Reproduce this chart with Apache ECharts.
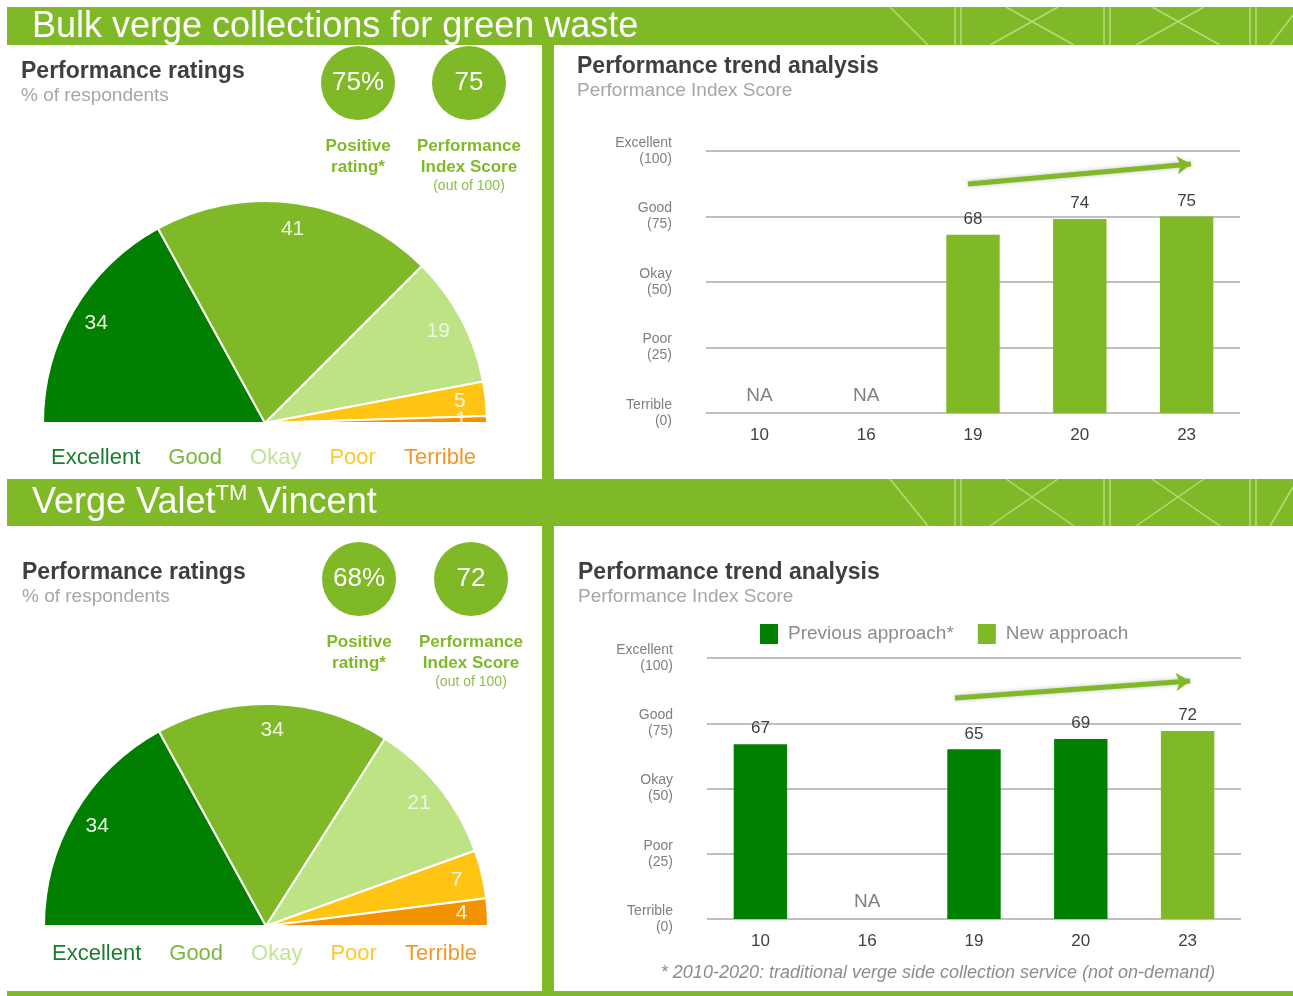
<!DOCTYPE html>
<html>
<head>
<meta charset="utf-8">
<script src="https://cdn.jsdelivr.net/npm/echarts@6/dist/echarts.min.js"></script>
<style>
  html, body { margin: 0; padding: 0; background: #fff; }
  #main { width: 1293px; height: 996px; }
</style>
</head>
<body>
<div id="main"></div>
<script>
// rating categories shared by both pies
const ratingNames = ["Excellent", "Good", "Okay", "Poor", "Terrible"];
const ratingColors = ["#007f00", "#80b927", "#bde385", "#ffc512", "#f39200"];
const legendColors = ["#1d7d2f", "#7db640", "#c3e39b", "#ffc72e", "#f0982a"];
const bulkRatings = [34, 41, 19, 5, 1];
const valetRatings = [34, 34, 21, 7, 4];

// headline numbers in the circles
const bulkKpis = ["75%", "75"];
const valetKpis = ["68%", "72"];

// trend charts
const years = ["10", "16", "19", "20", "23"];
const yTickValues = [0, 25, 50, 75, 100];
const yTickNames = ["Terrible", "Poor", "Okay", "Good", "Excellent"];
const bulkScores = [null, null, 68, 74, 75];
const valetPrevious = [67, null, 65, 69, null];
const valetNew = [null, null, null, null, 72];

const GREEN = "#80b927";
const FONT = "Liberation Sans";

function naData(...lists) {
	return years.map((_, i) => (lists.every((l) => l[i] == null) ? 0 : null));
}

function pieSeries(name, values, cx, cy) {
	const data = values.map((v, i) => ({ name: ratingNames[i], value: v, itemStyle: { color: ratingColors[i] } }));
	return [
		{
			name: name,
			type: "pie",
			center: [cx, cy],
			radius: [0, 222],
			startAngle: 180,
			endAngle: 0,
			label: { show: false },
			labelLine: { show: false },
			itemStyle: { borderColor: "#fff", borderWidth: 2 },
			emphasis: { disabled: true },
			data: data,
		},
		{
			// transparent ring only used to put the labels near the rim
			name: name + " labels",
			type: "pie",
			silent: true,
			center: [cx, cy],
			radius: [164, 222],
			startAngle: 180,
			endAngle: 0,
			avoidLabelOverlap: false,
			minShowLabelAngle: 0,
			label: { show: true, position: "inside", color: "#eef7e4", fontSize: 21, formatter: "{c}" },
			labelLine: { show: false },
			labelLayout: { hideOverlap: false },
			itemStyle: { color: "transparent", borderWidth: 0 },
			emphasis: { disabled: true },
			data: values.map((v, i) => ({ name: ratingNames[i], value: v })),
		},
	];
}

function ratingLegend(left, top) {
	return {
		left: left,
		top: top,
		padding: 0,
		icon: "none",
		itemWidth: 0,
		itemGap: 23,
		selectedMode: false,
		textStyle: { fontSize: 22 },
		data: ratingNames.map((n, i) => ({ name: n, textStyle: { color: legendColors[i] } })),
	};
}

function barLabel() {
	return { show: true, position: "top", distance: 7, color: "#404040", fontSize: 17 };
}

function naSeries(gridIdx, lists) {
	return {
		name: "NA",
		type: "bar",
		xAxisIndex: gridIdx,
		yAxisIndex: gridIdx,
		barWidth: "50%",
		barGap: "-100%",
		silent: true,
		itemStyle: { color: "transparent" },
		label: { show: true, position: "top", distance: 8, color: "#808080", fontSize: 19, formatter: "NA" },
		data: naData(...lists),
	};
}

function trendArrow(p0, p1) {
	return {
		silent: true,
		symbol: ["none", "arrow"],
		symbolSize: 14,
		label: { show: false },
		lineStyle: { color: GREEN, width: 5, type: "solid", shadowBlur: 4, shadowColor: "rgba(0,0,0,0.25)" },
		emphasis: { disabled: true },
		data: [[{ x: p0[0], y: p0[1] }, { x: p1[0], y: p1[1] }]],
	};
}

function axes(gridIdx) {
	return {
		x: {
			type: "category",
			gridIndex: gridIdx,
			data: years,
			axisLine: { show: false },
			axisTick: { show: false },
			axisLabel: { color: "#404040", fontSize: 17, margin: 14 },
		},
		y: {
			type: "value",
			gridIndex: gridIdx,
			min: 0,
			max: 100,
			interval: 25,
			axisLine: { show: false },
			axisTick: { show: false },
			axisLabel: {
				color: "#7f7f7f",
				fontSize: 14,
				lineHeight: 16,
				margin: 34,
				formatter: (v) => yTickNames[yTickValues.indexOf(v)] + "\n(" + v + ")",
			},
			splitLine: { lineStyle: { color: "#bfbfbf", width: 2 } },
		},
	};
}

function bannerPattern(y0, h) {
	const c = "#b5dc7a";
	const lines = [];
	const add = (x1, y1, x2, y2) =>
		lines.push({ type: "line", shape: { x1, y1, x2, y2 }, style: { stroke: c, lineWidth: 1.5 }, silent: true });
	[955, 961, 1104, 1110, 1250, 1256].forEach((x) => add(x, y0, x, y0 + h));
	[1032, 1178].forEach((cx) => {
		add(cx - 42, y0 + h, cx + 26, y0);
		add(cx - 26, y0, cx + 42, y0 + h);
	});
	add(890, y0, 928, y0 + h);
	add(1270, y0 + h, 1293, y0 + 8);
	return lines;
}

function kpiBlock(kpis, x1, x2, cy) {
	const els = [];
	kpis.forEach((t, i) => {
		const cx = i === 0 ? x1 : x2;
		els.push({ type: "circle", shape: { cx: cx, cy: cy, r: 37 }, style: { fill: GREEN }, silent: true });
		els.push({
			type: "text",
			x: cx,
			y: cy,
			style: { text: t, fill: "#fff", fontSize: 26, fontFamily: FONT, align: "center", verticalAlign: "middle" },
			silent: true,
		});
	});
	const capStyle = { fill: GREEN, fontSize: 17, fontWeight: "bold", fontFamily: FONT, align: "center", verticalAlign: "top", lineHeight: 21 };
	els.push({ type: "text", x: x1, y: cy + 53, style: Object.assign({ text: "Positive\nrating*" }, capStyle), silent: true });
	els.push({ type: "text", x: x2, y: cy + 53, style: Object.assign({ text: "Performance\nIndex Score" }, capStyle), silent: true });
	els.push({
		type: "text",
		x: x2,
		y: cy + 103,
		style: { text: "(out of 100)", fill: "#8cc04a", fontSize: 14, fontFamily: FONT, align: "center", verticalAlign: "middle" },
		silent: true,
	});
	return els;
}

function sectionTitle(text, subtext, left, top) {
	return {
		text: text,
		subtext: subtext,
		left: left,
		top: top,
		padding: 0,
		itemGap: 3,
		textStyle: { color: "#3f3f3f", fontSize: 23, fontWeight: "bold" },
		subtextStyle: { color: "#a6a6a6", fontSize: 19 },
	};
}

const ax0 = axes(0);
const ax1 = axes(1);

const chart = echarts.init(document.getElementById("main"), null, { renderer: "canvas" });

const option = {
	animation: false,
	textStyle: { fontFamily: FONT },
	title: [
		{ text: "Bulk verge collections for green waste", left: 32, top: 9, padding: 0, textStyle: { color: "#fff", fontSize: 36, fontWeight: "normal" } },
		{
			text: "{a|Verge Valet}{b|TM}{a| Vincent}",
			left: 32,
			top: 483,
			padding: 0,
			textStyle: {
				fontWeight: "normal",
				rich: {
					a: { color: "#fff", fontSize: 36, fontWeight: "normal", lineHeight: 40 },
					b: { color: "#fff", fontSize: 22, fontWeight: "normal", lineHeight: 18, verticalAlign: "top" },
				},
			},
		},
		sectionTitle("Performance ratings", "% of respondents", 21, 60),
		sectionTitle("Performance trend analysis", "Performance Index Score", 577, 55),
		sectionTitle("Performance ratings", "% of respondents", 22, 561),
		sectionTitle("Performance trend analysis", "Performance Index Score", 578, 561),
	],
	legend: [
		ratingLegend(46, 447),
		ratingLegend(47, 943),
		{
			left: 760,
			top: 624,
			padding: 0,
			icon: "rect",
			itemWidth: 18,
			itemHeight: 20,
			itemGap: 24,
			selectedMode: false,
			textStyle: { color: "#8c8c8c", fontSize: 19, padding: [0, 0, 0, 5] },
			data: ["Previous approach*", "New approach"],
		},
	],
	grid: [
		{ left: 706, right: 53, top: 151, bottom: 583 },
		{ left: 707, right: 52, top: 658, bottom: 77 },
	],
	xAxis: [ax0.x, ax1.x],
	yAxis: [ax0.y, ax1.y],
	series: [
		...pieSeries("Bulk verge", bulkRatings, 265, 423),
		...pieSeries("Verge Valet", valetRatings, 266, 926),
		{
			name: "Bulk score",
			type: "bar",
			xAxisIndex: 0,
			yAxisIndex: 0,
			barWidth: "50%",
			barGap: "-100%",
			itemStyle: { color: GREEN },
			label: barLabel(),
			data: bulkScores,
			markLine: trendArrow([968, 184], [1191, 164]),
		},
		naSeries(0, [bulkScores]),
		{
			name: "Previous approach*",
			type: "bar",
			xAxisIndex: 1,
			yAxisIndex: 1,
			barWidth: "50%",
			barGap: "-100%",
			itemStyle: { color: "#007f00" },
			label: barLabel(),
			data: valetPrevious,
		},
		{
			name: "New approach",
			type: "bar",
			xAxisIndex: 1,
			yAxisIndex: 1,
			barWidth: "50%",
			barGap: "-100%",
			itemStyle: { color: GREEN },
			label: barLabel(),
			data: valetNew,
			markLine: trendArrow([955, 698], [1190, 681]),
		},
		naSeries(1, [valetPrevious, valetNew]),
	],
	graphic: [
		// banners, dividers and the frame line at the bottom
		{ type: "rect", shape: { x: 7, y: 7, width: 1286, height: 38 }, style: { fill: GREEN }, silent: true, z: -10 },
		{ type: "rect", shape: { x: 7, y: 479, width: 1286, height: 47 }, style: { fill: GREEN }, silent: true, z: -10 },
		{ type: "rect", shape: { x: 542, y: 45, width: 12, height: 434 }, style: { fill: GREEN }, silent: true },
		{ type: "rect", shape: { x: 542, y: 526, width: 12, height: 466 }, style: { fill: GREEN }, silent: true },
		{ type: "rect", shape: { x: 7, y: 991, width: 1286, height: 5 }, style: { fill: GREEN }, silent: true },
		...bannerPattern(7, 38),
		...bannerPattern(479, 47),
		...kpiBlock(bulkKpis, 358, 469, 83),
		...kpiBlock(valetKpis, 359, 471, 579),
		{
			type: "text",
			x: 938,
			y: 973,
			style: {
				text: "* 2010-2020: traditional verge side collection service (not on-demand)",
				fill: "#8c8c8c",
				fontSize: 18,
				fontStyle: "italic",
				fontFamily: FONT,
				align: "center",
				verticalAlign: "middle",
			},
			silent: true,
		},
	],
};

chart.setOption(option);
</script>
</body>
</html>
